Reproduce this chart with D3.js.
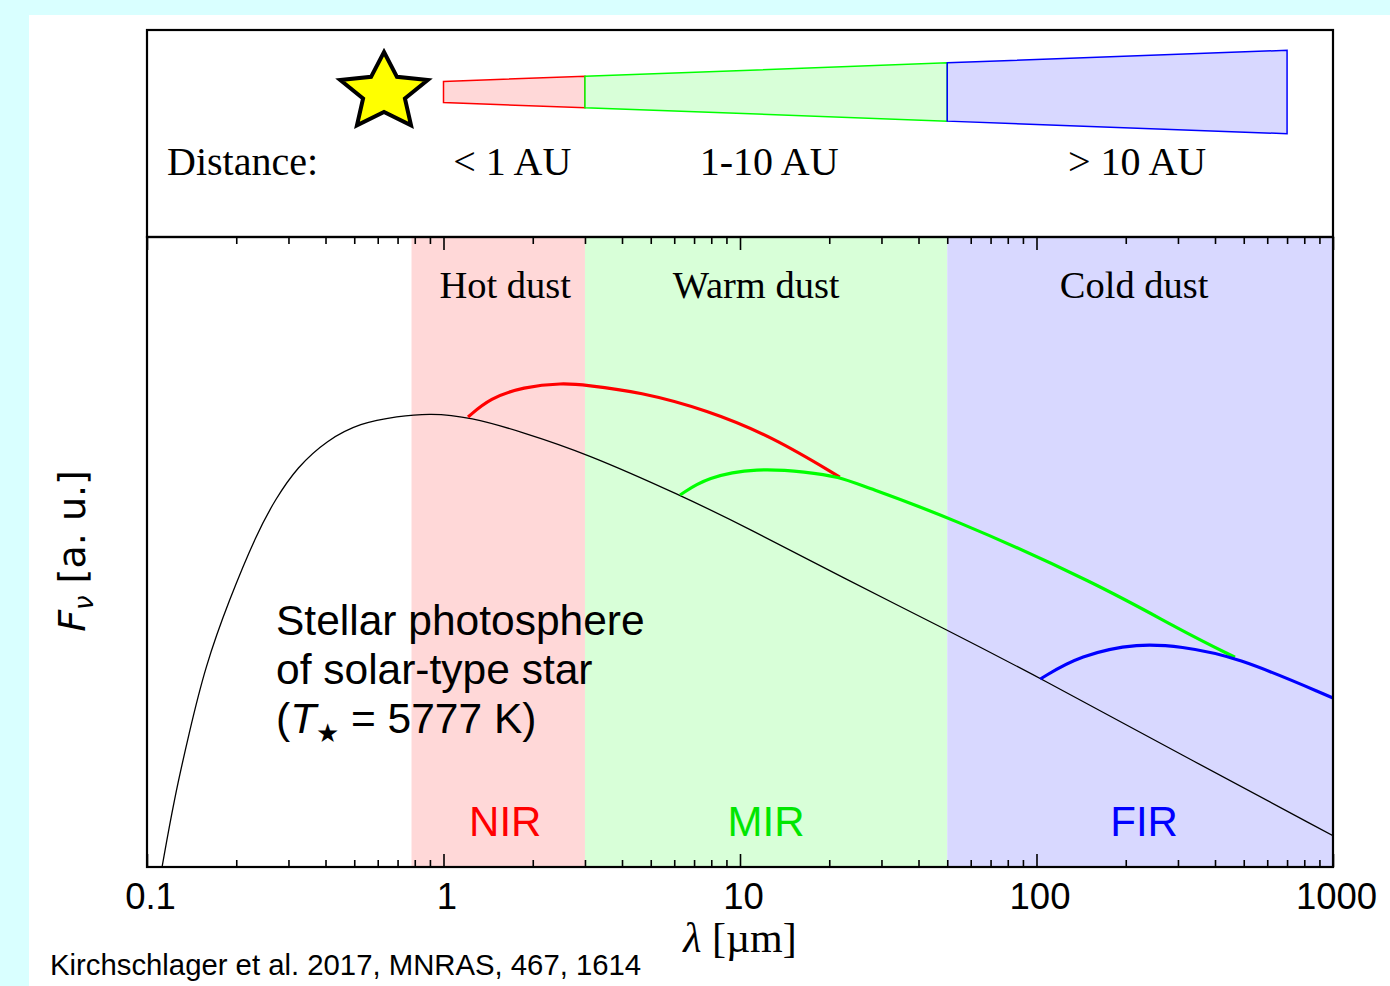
<!DOCTYPE html>
<html>
<head>
<meta charset="utf-8">
<script src="https://cdn.jsdelivr.net/npm/d3@7"></script>
<style>
html, body { margin: 0; padding: 0; background: #d9ffff; }
svg { display: block; }
</style>
</head>
<body>
<svg id="chart" width="1390" height="986"></svg>
<script>
// ---- data ----
var bandNames = ["NIR", "MIR", "FIR"];
var bandColors = ["#ff0000", "#00e600", "#0000ff"];
var bandFills = ["#ffd8d8", "#d8ffd8", "#d8d8ff"];
var bandEdges = [0.78, 3, 50, 1000];          // micron
var dustNames = ["Hot dust", "Warm dust", "Cold dust"];
var distNames = ["< 1 AU", "1-10 AU", "> 10 AU"];
var distEdges = [1, 3, 50, 700];               // micron, where the cone pieces sit
var xTickValues = [0.1, 1, 10, 100, 1000];
var xTickLabels = ["0.1", "1", "10", "100", "1000"];

// stellar photosphere
var starLam  = [0.1124, 0.1233, 0.1386, 0.157, 0.189, 0.235, 0.270, 0.321, 0.405, 0.523, 0.70, 0.9, 1.23, 1.86, 3.0, 6.28, 10.8, 22, 50, 103, 305, 1000];
var starFlux = [1e-8, 7.1e-8, 5.0e-7, 3.47e-6, 2.45e-5, 1.74e-4, 4.57e-4, 1.20e-3, 2.64e-3, 4.35e-3, 5.3e-3, 5.8e-3, 5.18e-3, 3.3e-3, 1.81e-3, 5.3e-4, 1.96e-4, 4.8e-5, 1.02e-5, 2.5e-6, 2.72e-7, 2.5e-8];
// hot dust (NIR excess)
var hotLam  = [1.21, 1.435, 1.854, 2.53, 3.0, 4.60, 7.74, 12.9, 21.7];
var hotFlux = [5.18e-3, 9.0e-3, 1.245e-2, 1.40e-2, 1.32e-2, 1.08e-2, 6.35e-3, 2.89e-3, 8.95e-4];
// warm dust (MIR excess)
var warmLam  = [6.28, 7.74, 11.4, 16.8, 21.7, 25.4, 50, 164, 305, 467];
var warmFlux = [5.3e-4, 8.95e-4, 1.17e-3, 1.04e-3, 8.95e-4, 7.1e-4, 2.86e-4, 3.81e-5, 1.02e-5, 4.6e-6];
// cold dust (FIR excess)
var coldLam  = [103, 140, 223, 305, 467, 1000];
var coldFlux = [2.44e-6, 4.92e-6, 6.98e-6, 6.3e-6, 4.8e-6, 1.40e-6];

// ---- layout ----
var svg = d3.select("#chart");
var L = 147, R = 1333, T = 237, B = 867, topY = 30;

svg.append("rect").attr("x", 29).attr("y", 15).attr("width", 1361).attr("height", 971).attr("fill", "#fff");

var x = d3.scaleLog().domain([0.1, 1000]).range([L, R]);
var y = d3.scaleLog().domain([1e-8, 1]).range([B, T]);

// background bands
var bands = bandNames.map(function (n, i) { return { name: n, lo: bandEdges[i], hi: bandEdges[i + 1], i: i }; });
svg.append("g").selectAll("rect").data(bands).enter().append("rect")
    .attr("x", function (d) { return x(d.lo); })
    .attr("y", T)
    .attr("width", function (d) { return x(d.hi) - x(d.lo); })
    .attr("height", B - T)
    .attr("fill", function (d) { return bandFills[d.i]; });

// dust labels and band names
svg.append("g").selectAll("text").data(bands).enter().append("text")
    .attr("x", function (d) { return (x(d.lo) + x(d.hi)) / 2 + [7, -10, -6][d.i]; })
    .attr("y", 298)
    .attr("text-anchor", "middle")
    .attr("font-family", "Liberation Serif, Times New Roman, serif")
    .attr("font-size", 38.5)
    .text(function (d) { return dustNames[d.i]; });

svg.append("g").selectAll("text").data(bands).enter().append("text")
    .attr("x", function (d) { return (x(d.lo) + x(d.hi)) / 2 + [7, 0, 4][d.i]; })
    .attr("y", 836)
    .attr("text-anchor", "middle")
    .attr("font-family", "Liberation Sans, Arial, sans-serif")
    .attr("font-size", 42)
    .attr("fill", function (d) { return bandColors[d.i]; })
    .text(function (d) { return d.name; });

// curves
var clip = svg.append("clipPath").attr("id", "plotclip");
clip.append("rect").attr("x", L).attr("y", T).attr("width", R - L).attr("height", B - T);

var line = d3.line()
    .x(function (d) { return x(d[0]); })
    .y(function (d) { return y(d[1]); })
    .curve(d3.curveBasis);

function zip(a, b) { return a.map(function (v, i) { return [v, b[i]]; }); }

var curves = [
    { pts: zip(starLam, starFlux), color: "#000", w: 1.3 },
    { pts: zip(hotLam, hotFlux), color: "#ff0000", w: 3.2 },
    { pts: zip(warmLam, warmFlux), color: "#00ff00", w: 3.2 },
    { pts: zip(coldLam, coldFlux), color: "#0000ff", w: 3.2 }
];
svg.append("g").attr("clip-path", "url(#plotclip)").selectAll("path").data(curves).enter().append("path")
    .attr("d", function (d) { return line(d.pts); })
    .attr("fill", "none")
    .attr("stroke", function (d) { return d.color; })
    .attr("stroke-width", function (d) { return d.w; });

// photosphere annotation
var note = svg.append("text")
    .attr("font-family", "Liberation Sans, Arial, sans-serif")
    .attr("font-size", 42.5);
note.append("tspan").attr("x", 276).attr("y", 635).text("Stellar photosphere");
note.append("tspan").attr("x", 276).attr("y", 684).text("of solar-type star");
note.append("tspan").attr("x", 276).attr("y", 733).text("(");
note.append("tspan").attr("font-style", "italic").text("T");
note.append("tspan").attr("dy", 9).attr("font-size", 26).text("\u2605");
note.append("tspan").attr("dy", -9).text(" = 5777 K)");

// axes: ticks on the inside, bottom and top
var minor = x.ticks().filter(function (v) { return xTickValues.indexOf(v) < 0; });

var axB = svg.append("g").attr("transform", "translate(0," + B + ")")
    .call(d3.axisBottom(x).tickValues(xTickValues).tickSizeInner(-13).tickSizeOuter(0).tickPadding(16)
        .tickFormat(function (d, i) { return xTickLabels[i]; }));
svg.append("g").attr("transform", "translate(0," + B + ")")
    .call(d3.axisBottom(x).tickValues(minor).tickSizeInner(-7).tickSizeOuter(0).tickFormat(""));
svg.append("g").attr("transform", "translate(0," + T + ")")
    .call(d3.axisTop(x).tickValues(xTickValues).tickSizeInner(-13).tickSizeOuter(0).tickFormat(""));
svg.append("g").attr("transform", "translate(0," + T + ")")
    .call(d3.axisTop(x).tickValues(minor).tickSizeInner(-7).tickSizeOuter(0).tickFormat(""));

svg.selectAll(".domain").remove();
svg.selectAll(".tick line").attr("stroke", "#000").attr("stroke-width", 1.6);
axB.selectAll(".tick text")
    .attr("font-family", "Liberation Sans, Arial, sans-serif")
    .attr("font-size", 36.5)
    .attr("fill", "#000")
    .attr("dx", 3);

// frames
svg.append("rect").attr("x", L).attr("y", topY).attr("width", R - L).attr("height", T - topY)
    .attr("fill", "none").attr("stroke", "#000").attr("stroke-width", 2.2);
svg.append("rect").attr("x", L).attr("y", T).attr("width", R - L).attr("height", B - T)
    .attr("fill", "none").attr("stroke", "#000").attr("stroke-width", 2.2);

// axis titles
var xt = svg.append("text")
    .attr("x", 740).attr("y", 952)
    .attr("text-anchor", "middle")
    .attr("font-family", "Liberation Serif, Times New Roman, serif")
    .attr("font-size", 42);
xt.append("tspan").attr("font-style", "italic").text("\u03bb");
xt.append("tspan").text(" [\u00b5m]");

var yt = svg.append("text")
    .attr("transform", "translate(85,551) rotate(-90)")
    .attr("text-anchor", "middle")
    .attr("font-family", "DejaVu Sans, sans-serif")
    .attr("font-size", 38);
yt.append("tspan").attr("font-style", "italic").text("F");
yt.append("tspan").attr("font-style", "italic").attr("font-size", 26).attr("dy", 8).text("\u03bd");
yt.append("tspan").attr("dy", -8).text(" [a. u.]");

// citation
svg.append("text")
    .attr("x", 50).attr("y", 975)
    .attr("font-family", "Liberation Sans, Arial, sans-serif")
    .attr("font-size", 29.3)
    .text("Kirchschlager et al. 2017, MNRAS, 467, 1614");

// ---- top panel: star and cone of distances ----
var coneMid = 92;
var coneHalf = d3.scaleLinear().domain([x(1), x(700)]).range([10.5, 41.7]);
var pieces = distNames.map(function (n, i) { return { name: n, lo: distEdges[i], hi: distEdges[i + 1], i: i }; });

svg.append("g").selectAll("path").data(pieces).enter().append("path")
    .attr("d", function (d) {
        var x0 = x(d.lo), x1 = x(d.hi), h0 = coneHalf(x0), h1 = coneHalf(x1);
        return "M" + x0 + "," + (coneMid - h0) + "L" + x1 + "," + (coneMid - h1) +
            "L" + x1 + "," + (coneMid + h1) + "L" + x0 + "," + (coneMid + h0) + "Z";
    })
    .attr("fill", function (d) { return bandFills[d.i]; })
    .attr("stroke", function (d) { return ["#ff0000", "#00ff00", "#0000ff"][d.i]; })
    .attr("stroke-width", 1.5);

svg.append("g").selectAll("text").data(pieces).enter().append("text")
    .attr("x", function (d) { return (x(d.lo) + x(d.hi === 700 ? 1000 : d.hi)) / 2 + [-2, 3, -3][d.i]; })
    .attr("y", 175)
    .attr("text-anchor", "middle")
    .attr("font-family", "Liberation Serif, Times New Roman, serif")
    .attr("font-size", 40)
    .text(function (d) { return d.name; });

svg.append("text")
    .attr("x", 167).attr("y", 175)
    .attr("font-family", "Liberation Serif, Times New Roman, serif")
    .attr("font-size", 40)
    .text("Distance:");

// five pointed star, a bit wider than tall as in the figure
var starPts = d3.range(10).map(function (k) {
    var r = k % 2 === 0 ? 46 : 22;
    var a = Math.PI * k / 5;
    return [384 + r * Math.sin(a), 92.5 - 0.88 * r * Math.cos(a)];
});
svg.append("path")
    .attr("d", "M" + starPts.join("L") + "Z")
    .attr("fill", "#ffff00")
    .attr("stroke", "#000")
    .attr("stroke-width", 4)
    .attr("stroke-linejoin", "miter");
</script>
</body>
</html>
